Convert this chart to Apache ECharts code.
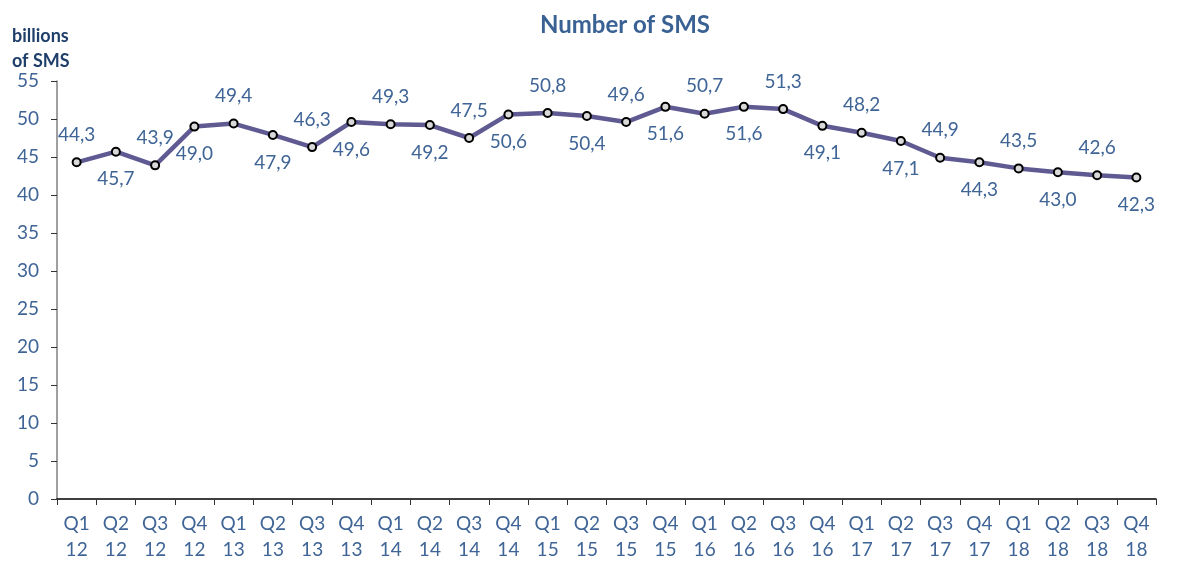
<!DOCTYPE html>
<html>
<head>
<meta charset="utf-8">
<script src="https://cdn.jsdelivr.net/npm/echarts@6/dist/echarts.min.js"></script>
<style>
  html, body { margin: 0; padding: 0; background: #fff; }
  #chart { width: 1177px; height: 565px; }
</style>
</head>
<body>
<div id="chart"></div>
<script>
// quarters and years, shown as two lines under each tick
var quarters = ['Q1','Q2','Q3','Q4','Q1','Q2','Q3','Q4','Q1','Q2','Q3','Q4','Q1','Q2','Q3','Q4',
                'Q1','Q2','Q3','Q4','Q1','Q2','Q3','Q4','Q1','Q2','Q3','Q4'];
var years = ['12','12','12','12','13','13','13','13','14','14','14','14','15','15','15','15',
             '16','16','16','16','17','17','17','17','18','18','18','18'];
var smsValues = [44.3, 45.7, 43.9, 49.0, 49.4, 47.9, 46.3, 49.6, 49.3, 49.2, 47.5, 50.6, 50.8, 50.4,
                 49.6, 51.6, 50.7, 51.6, 51.3, 49.1, 48.2, 47.1, 44.9, 44.3, 43.5, 43.0, 42.6, 42.3];

var categories = quarters.map(function (q, i) { return q + '\n' + years[i]; });
var labelColor = '#3F6496';

var points = smsValues.map(function (v, i) {
    return {
        value: v,
        label: { position: i % 2 === 0 ? 'top' : 'bottom', distance: 13 }
    };
});

var chart = echarts.init(document.getElementById('chart'));
chart.setOption({
    animation: false,
    title: [{
        text: 'Number of SMS',
        left: 620, top: 8, textAlign: 'center',
        textStyle: { fontFamily: 'Lato', fontSize: 24, fontWeight: 'bold', color: '#3A6193' }
    }, {
        text: 'billions\nof SMS',
        left: 7, top: 19,
        textStyle: { fontFamily: 'Lato', fontSize: 18, fontWeight: 'bold', color: '#1F3F6B', lineHeight: 25 }
    }],
    grid: { left: 57, right: 21, top: 81, bottom: 66 },
    xAxis: {
        type: 'category',
        data: categories,
        boundaryGap: true,
        axisLine: { lineStyle: { color: '#000', width: 1.5 } },
        axisTick: { show: true, length: 6, lineStyle: { color: '#333' } },
        axisLabel: {
            interval: 0, margin: 12,
            fontFamily: 'Lato', fontSize: 19, color: labelColor, lineHeight: 26
        }
    },
    yAxis: {
        type: 'value',
        min: 0, max: 55, interval: 5,
        splitLine: { show: false },
        axisLine: { show: true, lineStyle: { color: '#808080', width: 1.5 } },
        axisTick: { show: true, length: 6, inside: false, lineStyle: { color: '#333' } },
        axisLabel: { fontFamily: 'Lato', fontSize: 19, color: labelColor, margin: 18 }
    },
    series: [{
        type: 'line',
        data: points,
        symbol: 'circle',
        symbolSize: 8,
        itemStyle: { color: '#D9D9D9', borderColor: '#000', borderWidth: 2 },
        lineStyle: { color: '#5F5B92', width: 4.5 },
        label: {
            show: true,
            fontFamily: 'Lato', fontSize: 19, color: labelColor,
            formatter: function (p) { return p.value.toFixed(1).replace('.', ','); }
        },
        z: 3
    }]
});
</script>
</body>
</html>
